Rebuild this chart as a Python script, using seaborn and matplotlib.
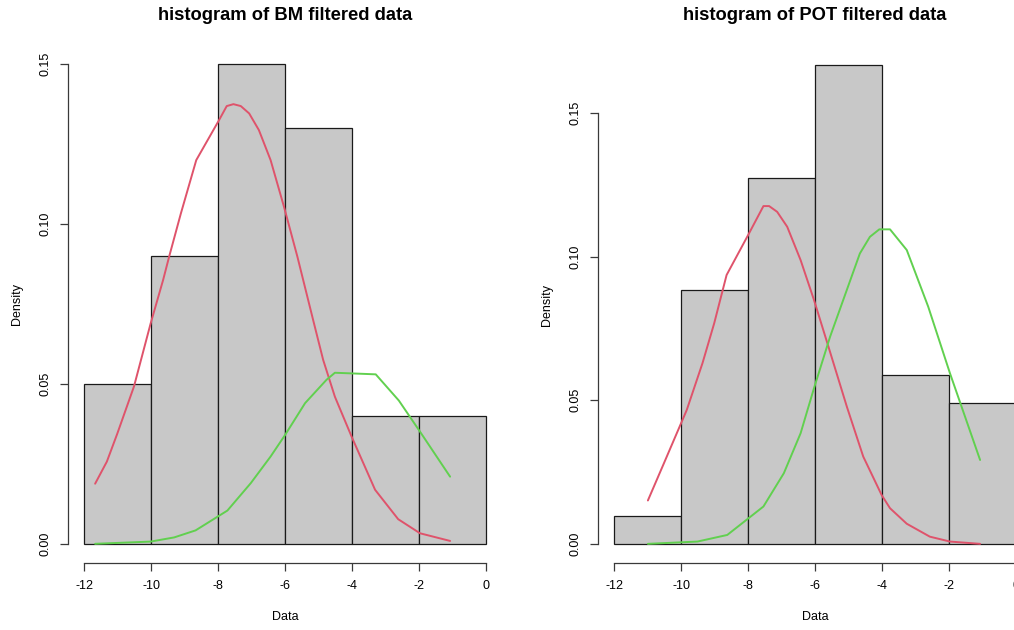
import numpy as np
import pandas as pd
import matplotlib
matplotlib.use("Agg")
import matplotlib.pyplot as plt
import seaborn as sns

# ---- data ----
bin_edges = [-12, -10, -8, -6, -4, -2, 0]
bm_counts = [5, 9, 15, 13, 4, 4]
pot_counts = [1, 9, 13, 17, 6, 5]

bm_red_x = [-11.67, -11.32, -11.01, -10.51, -10.01, -9.64, -9.46, -9.11, -8.65, -7.97, -7.74,
            -7.54, -7.32, -7.07, -6.78, -6.43, -6.03, -5.63, -5.16, -4.86, -4.51, -4.01,
            -3.31, -2.62, -1.97, -1.07]
bm_red_y = [0.0188, 0.0257, 0.0344, 0.0492, 0.0690, 0.0825, 0.0898, 0.1033, 0.1200, 0.1325, 0.1369,
            0.1375, 0.1369, 0.1346, 0.1294, 0.1200, 0.1054, 0.0898, 0.0700, 0.0575, 0.0460, 0.0335,
            0.0169, 0.0077, 0.0033, 0.0009]
bm_green_x = [-11.67, -10.01, -9.31, -8.67, -7.72, -7.02, -6.43, -6.00, -5.40, -4.76, -4.51,
              -3.29, -2.60, -1.97, -1.07]
bm_green_y = [0.0000, 0.0007, 0.0020, 0.0042, 0.0104, 0.0190, 0.0273, 0.0340, 0.0440, 0.0513, 0.0535,
              0.0530, 0.0448, 0.0351, 0.0210]

pot_red_x = [-10.99, -10.51, -9.83, -9.36, -9.01, -8.64, -7.97, -7.54, -7.37, -7.13, -6.83,
             -6.43, -6.03, -5.60, -5.05, -4.56, -4.01, -3.76, -3.26, -2.57, -1.97, -1.07]
pot_red_y = [0.0151, 0.0281, 0.0466, 0.0629, 0.0768, 0.0936, 0.1081, 0.1176, 0.1176, 0.1156, 0.1104,
             0.0988, 0.0849, 0.0687, 0.0478, 0.0304, 0.0170, 0.0124, 0.0070, 0.0025, 0.0008, 0.0000]
pot_green_x = [-10.99, -9.51, -8.62, -7.54, -6.93, -6.43, -6.03, -5.55, -5.05, -4.66, -4.36,
               -4.08, -3.76, -3.26, -2.62, -1.97, -1.07]
pot_green_y = [0.0000, 0.0008, 0.0031, 0.0130, 0.0246, 0.0385, 0.0542, 0.0721, 0.0884, 0.1011, 0.1069,
               0.1095, 0.1095, 0.1023, 0.0826, 0.0594, 0.0292]

titles = ["histogram of BM filtered data", "histogram of POT filtered data"]
x_ticks = [-12, -10, -8, -6, -4, -2, 0]
y_ticks = [0.00, 0.05, 0.10, 0.15]

RED = "#DF536B"
GREEN = "#61D04F"
BAR = "#C8C8C8"
AX = "#3A3A3A"

sns.set_theme(style="ticks")
plt.rcParams["font.family"] = ["Liberation Sans", "DejaVu Sans"]
plt.rcParams["text.color"] = "black"
plt.rcParams["axes.labelcolor"] = "black"

W, H = 1014, 630
fig = plt.figure(figsize=(W / 100, H / 100), dpi=100)

def axes_px(left, right, top, bottom):
    return fig.add_axes([left / W, (H - bottom) / H, (right - left) / W, (bottom - top) / H])

ax1 = axes_px(68, 502, 45, 563)
ax2 = axes_px(598, 1032, 46, 563)

mids = [(a + b) / 2 for a, b in zip(bin_edges[:-1], bin_edges[1:])]

panels = [
    (ax1, bm_counts, bm_red_x, bm_red_y, bm_green_x, bm_green_y, titles[0]),
    (ax2, pot_counts, pot_red_x, pot_red_y, pot_green_x, pot_green_y, titles[1]),
]

for ax, counts, rx, ry, gx, gy, title in panels:
    df = pd.DataFrame({"x": mids, "w": counts})
    sns.histplot(data=df, x="x", weights="w", bins=bin_edges, stat="density",
                 color=BAR, alpha=1.0, edgecolor="#1a1a1a", linewidth=0.9, ax=ax)
    sns.lineplot(x=rx, y=ry, sort=False, color=RED, linewidth=1.4, ax=ax)
    sns.lineplot(x=gx, y=gy, sort=False, color=GREEN, linewidth=1.4, ax=ax)

    dens = np.array(counts) / (sum(counts) * 2.0)
    ymax = dens.max()
    ax.set_xlim(-12 - 0.48, 0 + 0.48)
    ax.set_ylim(-0.04 * ymax, ymax * 1.04)

    ax.set_xticks(x_ticks)
    ax.set_xticklabels([str(t) for t in x_ticks])
    ax.set_yticks(y_ticks)
    ax.set_yticklabels([f"{t:.2f}" for t in y_ticks], rotation=90, va="center")

    for s in ["top", "right"]:
        ax.spines[s].set_visible(False)
    ax.spines["left"].set_bounds(0, 0.15)
    ax.spines["bottom"].set_bounds(-12, 0)
    for s in ["left", "bottom"]:
        ax.spines[s].set_color(AX)
        ax.spines[s].set_linewidth(0.9)
    ax.tick_params(axis="both", length=5.5, width=0.9, color=AX, labelsize=9,
                   labelcolor="black", pad=6.5)
    ax.set_xlabel("Data", fontsize=9, labelpad=14, color="black")
    ax.set_ylabel("Density", fontsize=9, labelpad=12, color="black")
    ax.set_facecolor("white")

fig.text(285 / W, 1 - 15 / H, titles[0], ha="center", va="center", fontsize=13.2,
         fontweight="bold", color="black")
fig.text(815 / W, 1 - 15 / H, titles[1], ha="center", va="center", fontsize=13.2,
         fontweight="bold", color="black")

fig.savefig("out.png", dpi=100, facecolor="white")
